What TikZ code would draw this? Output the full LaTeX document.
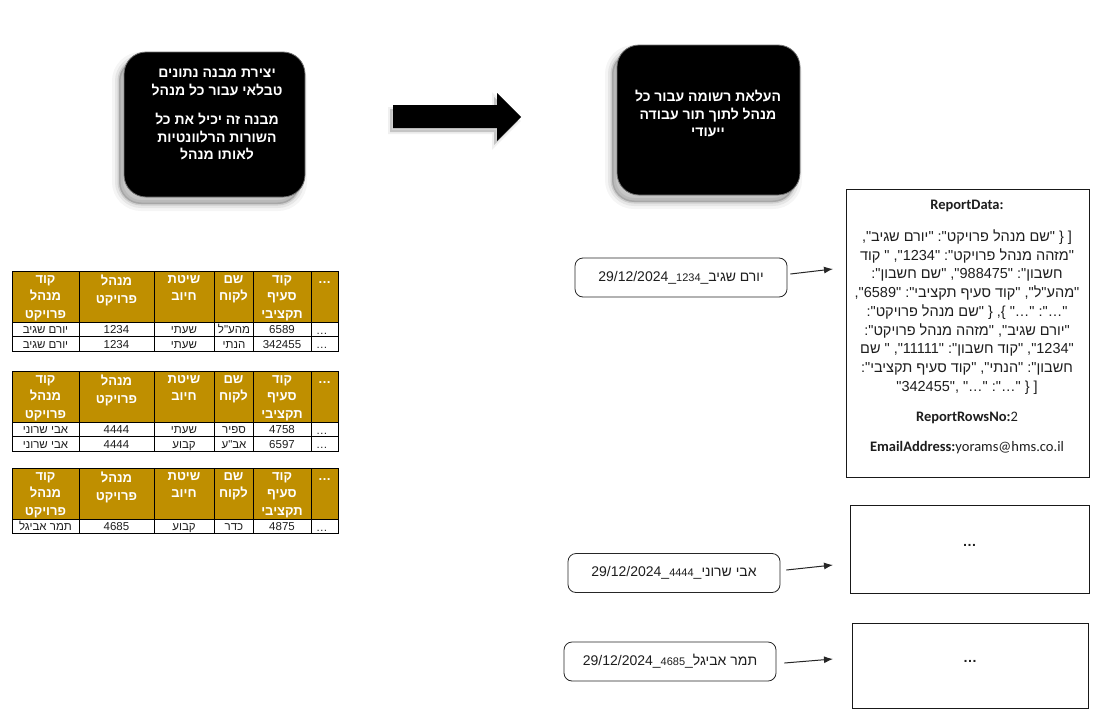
\documentclass[tikz,border=0pt]{standalone}
\usepackage{fontspec}
\setmainfont{Liberation Sans}[Ligatures=TeXOff]
\newfontfamily\hebfont[Script=Hebrew,Ligatures=TeXOff]{Liberation Sans}
\newfontfamily\calfont{Carlito}
\TeXXeTstate=1
\usetikzlibrary{arrows.meta}
\newcommand{\heb}[1]{{\hebfont\beginR#1\endR}}
\definecolor{hdrgold}{RGB}{191,143,0}
\definecolor{inkgray}{RGB}{30,30,30}

\begin{document}
\begin{tikzpicture}[x=1pt,y=-1pt,
    softshadow/.style={
      preaction={fill=black,draw=black,line width=14pt,opacity=.04,transform canvas={shift={(-5pt,-7pt)}}},
      preaction={fill=black,draw=black,line width=8pt,opacity=.06,transform canvas={shift={(-5pt,-7pt)}}},
      preaction={fill=black,draw=black,line width=3pt,opacity=.10,transform canvas={shift={(-5pt,-7pt)}}}},
    arrowshadow/.style={
      preaction={fill=black,draw=black,line width=4pt,opacity=.06,transform canvas={shift={(-3pt,-4pt)}}},
      preaction={fill=black,opacity=.12,transform canvas={shift={(-3pt,-4pt)}}}},
    blackbox/.style={softshadow,fill=black,draw=black!55,line width=.8pt,rounded corners=22pt},
    boxtext/.style={text=white,font=\fontsize{14}{17.5}\selectfont\bfseries,align=center,inner sep=0pt},
    hdrcell/.style={fill=hdrgold,draw=black,line width=.9pt},
    rowcell/.style={fill=white,draw=black,line width=.9pt},
    hdrtext/.style={text=white,font=\fontsize{13}{17.5}\selectfont\bfseries,align=center,inner sep=0pt,anchor=north},
    celltext/.style={text=inkgray,font=\fontsize{11.5}{13}\selectfont,inner sep=0pt,anchor=base},
    lblbox/.style={draw=black!85,line width=.8pt,rounded corners=8pt,minimum width=212pt,minimum height=39pt,
      text=inkgray,font=\fontsize{14}{16}\selectfont},
    outbox/.style={draw=black!90,line width=1pt,text=inkgray,font=\fontsize{14}{16}\selectfont\bfseries,text depth=8pt},
    jsontext/.style={text=inkgray,align=center,inner sep=0pt,font=\fontsize{14.5}{18.7}\selectfont},
    caltext/.style={text=inkgray,inner sep=0pt,font=\fontsize{14.5}{17}\selectfont\calfont},
    link/.style={-{Latex[length=9pt,width=7pt]},line width=1pt,black!85}]

\useasboundingbox (0,0) rectangle (1097,720);
\fill[white] (0,0) rectangle (1097,720);

% process boxes
\node[blackbox,minimum width=181pt,minimum height=145pt] (mkstruct) at (214.5,124.5) {};
\node[boxtext] (mkstructtxt) at (217,114.5) {\heb{יצירת מבנה נתונים}\\\heb{טבלאי עבור כל מנהל}\\[12pt]
  \heb{מבנה זה יכיל את כל}\\\heb{השורות הרלוונטיות}\\\heb{לאותו מנהל}};
\node[blackbox,minimum width=183pt,minimum height=150pt] (enqueue) at (708.5,120) {};
\node[boxtext] (enqueuetxt) at (708,113.5) {\heb{העלאת רשומה עבור כל}\\\heb{מנהל לתוך תור עבודה}\\\heb{ייעודי}};

\fill[arrowshadow,black] (393,105) -- (497,105) -- (497,93) -- (521,117) -- (497,141) -- (497,128) -- (393,128) -- cycle;

% tables per manager
\foreach \t in {271,371,468}{
  \foreach \xa/\xb in {12/79,79/154,154/214,214/253,253/311,311/338}
    \draw[hdrcell] (\xa,\t) rectangle (\xb,\t+51);
  \node[hdrtext] (hdra\t) at (45.5,\t+4) {\heb{קוד}\\\heb{מנהל}\\\heb{פרויקט}};
  \node[hdrtext] (hdrb\t) at (116.5,\t+4) {\heb{מנהל}\\\heb{פרויקט}};
  \node[hdrtext] (hdrc\t) at (184,\t+4) {\heb{שיטת}\\\heb{חיוב}};
  \node[hdrtext] (hdrd\t) at (233.5,\t+4) {\heb{שם}\\\heb{לקוח}};
  \node[hdrtext] (hdre\t) at (282,\t+4) {\heb{קוד}\\\heb{סעיף}\\\heb{תקציבי}};
  \node[hdrtext,anchor=base] (hdrf\t) at (324.5,\t+12) {…};
}
\foreach \k/\r/\ca/\cb/\cc/\cd/\ce in {1/322/יורם שגיב/1234/שעתי/מהע"ל/6589,
    2/336.5/יורם שגיב/1234/שעתי/הנתי/342455, 3/422/אבי שרוני/4444/שעתי/ספיר/4758,
    4/436.5/אבי שרוני/4444/קבוע/אב"ע/6597, 5/519/תמר אביגל/4685/קבוע/כדר/4875}{
  \foreach \xa/\xb in {12/79,79/154,154/214,214/253,253/311,311/338}
    \draw[rowcell] (\xa,\r) rectangle (\xb,\r+14.5);
  \node[celltext] (rowa\k) at (45.5,\r+11.5) {\heb{\ca}};
  \node[celltext] (rowb\k) at (116.5,\r+11.5) {\cb};
  \node[celltext] (rowc\k) at (184,\r+11.5) {\heb{\cc}};
  \node[celltext] (rowd\k) at (234,\r+11.5) {\heb{\cd}};
  \node[celltext] (rowe\k) at (282,\r+11.5) {\ce};
  \node[celltext,anchor=base west] (rowf\k) at (316,\r+12) {…};
}

% queue records
\node[lblbox] (lblyoram) at (681,277.5) {29/12/2024\_{\fontsize{11}{13}\selectfont 1234}\_\heb{יורם שגיב}};
\node[lblbox] (lblavi) at (674,573) {29/12/2024\_{\fontsize{11}{13}\selectfont 4444}\_\heb{אבי שרוני}};
\node[lblbox] (lbltamar) at (670,661.5) {29/12/2024\_{\fontsize{11}{13}\selectfont 4685}\_\heb{תמר אביגל}};

\node[outbox,minimum width=243pt,minimum height=288pt] (rptyoram) at (967.5,333) {};
\node[outbox,minimum width=239pt,minimum height=88pt] (rptavi) at (969.5,549) {…};
\node[outbox,minimum width=236pt,minimum height=85pt] (rpttamar) at (970,665.5) {…};

\node[caltext] (rpttitle) at (967,206) {\bfseries ReportData:};
\node[jsontext] (rptjson) at (967,312) {%
  ,"\heb{יורם שגיב}" :"\heb{שם מנהל פרויקט}" \} ]\\
  \heb{קוד} " ,"1234" :"\heb{מזהה מנהל פרויקט}"\\
  :"\heb{שם חשבון}" ,"988475" :"\heb{חשבון}\\
  ,"6589" :"\heb{קוד סעיף תקציבי}" ,"\heb{מהע"ל}"\\
  :"\heb{שם מנהל פרויקט}" \} ,\{ "…" :"…"\\
  :"\heb{מזהה מנהל פרויקט}" ,"\heb{יורם שגיב}"\\
  \heb{שם} " ,"11111" :"\heb{קוד חשבון}" ,"1234"\\
  :"\heb{קוד סעיף תקציבי}" ,"\heb{הנתי}" :"\heb{חשבון}\\
  "342455", "…" :"…" \} ]};
\node[caltext] (rptrows) at (967,418) {\textbf{ReportRowsNo:}2};
\node[caltext] (rptmail) at (967,448) {\textbf{EmailAddress:}yorams@hms.co.il};

\coordinate (tipyoram) at (833,269);
\coordinate (tipavi) at (833,565);
\coordinate (tiptamar) at (833,659);
\draw[link] ([xshift=3pt,yshift=3.5pt]lblyoram.east) -- (tipyoram);
\draw[link] ([xshift=6pt,yshift=3pt]lblavi.east) -- (tipavi);
\draw[link] ([xshift=8pt,yshift=-1.5pt]lbltamar.east) -- (tiptamar);
\end{tikzpicture}
\end{document}
